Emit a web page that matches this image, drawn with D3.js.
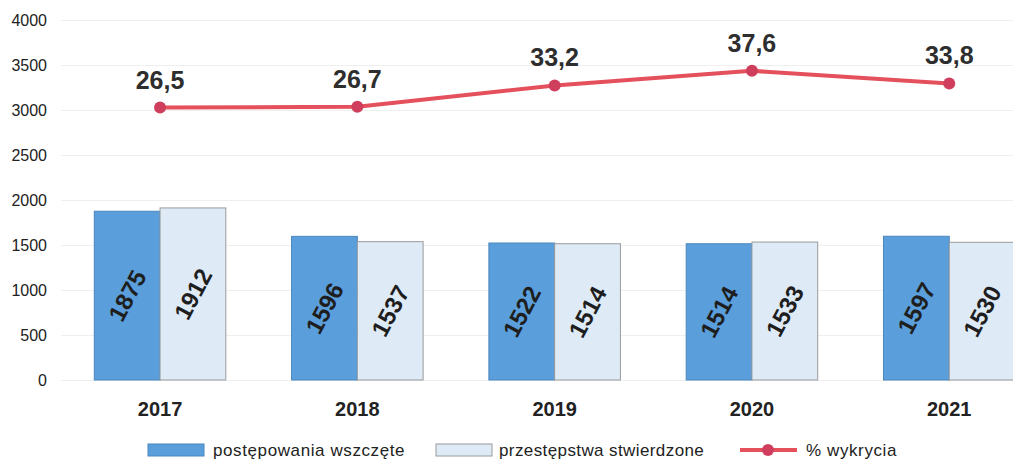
<!DOCTYPE html>
<html>
<head>
<meta charset="utf-8">
<script src="https://cdn.jsdelivr.net/npm/d3@7"></script>
<style>
  html, body { margin: 0; padding: 0; background: #fff; overflow: hidden; }
  svg { display: block; font-family: "Liberation Sans", Arial, sans-serif; }
</style>
</head>
<body>
<svg id="chart" width="1013" height="461"></svg>
<script>
// data
const years      = ["2017", "2018", "2019", "2020", "2021"];
const wszczete   = [1875, 1596, 1522, 1514, 1597];   // postępowania wszczęte
const stwierdz   = [1912, 1537, 1514, 1533, 1530];   // przestępstwa stwierdzone
const wykrycie   = [26.5, 26.7, 33.2, 37.6, 33.8];   // % wykrycia
const yTicks     = [0, 500, 1000, 1500, 2000, 2500, 3000, 3500, 4000];
const seriesKeys = ["wszczete", "stwierdz"];

const colDark  = "#5a9edb";
const colLight = "#deebf7";
const colLine  = "#e4505c";
const colDot   = "#d03e5e";

const svg = d3.select("#chart");

// scales (plot continues past the right edge, like the cropped original)
const x = d3.scaleBand().domain(years).range([61.4, 61.4 + 5 * 197.3]);
const x1 = d3.scaleBand().domain(seriesKeys).range([0, x.bandwidth()]).paddingOuter(0.5);
const y = d3.scaleLinear().domain([0, 4000]).range([380, 20]);
const y2 = d3.scaleLinear().domain([-56, 53]).range([380, 20]); // hidden secondary axis

// gridlines
svg.append("g")
  .selectAll("line")
  .data(yTicks)
  .join("line")
    .attr("x1", 61).attr("x2", 1013)
    .attr("y1", d => y(d) + 0.5).attr("y2", d => y(d) + 0.5)
    .attr("stroke", "#efefef").attr("stroke-width", 1);

// y axis labels
const yAxis = svg.append("g")
  .attr("transform", "translate(55,0)")
  .call(d3.axisLeft(y).tickValues(yTicks).tickFormat(d3.format("d")).tickSize(0).tickPadding(8));
yAxis.select(".domain").remove();
yAxis.selectAll("text")
  .attr("fill", "#222")
  .style("font-size", "16px");

// x axis labels
const xAxis = svg.append("g")
  .attr("transform", "translate(0,398)")
  .call(d3.axisBottom(x).tickSize(0).tickPadding(0));
xAxis.select(".domain").remove();
xAxis.selectAll("text")
  .attr("fill", "#222")
  .attr("dy", "0.9em")
  .style("font-size", "20px")
  .style("font-weight", "bold");

// bars
const rows = years.map((yr, i) => ({ year: yr, wszczete: wszczete[i], stwierdz: stwierdz[i] }));
const groups = svg.append("g")
  .selectAll("g")
  .data(rows)
  .join("g")
    .attr("transform", d => `translate(${x(d.year)},0)`);

const bars = groups.selectAll("g")
  .data(d => seriesKeys.map(k => ({ key: k, value: d[k] })))
  .join("g");

bars.append("rect")
  .attr("x", d => x1(d.key))
  .attr("y", d => y(d.value))
  .attr("width", x1.bandwidth())
  .attr("height", d => y(0) - y(d.value))
  .attr("fill", d => d.key === "wszczete" ? colDark : colLight)
  .attr("stroke", d => d.key === "wszczete" ? "#4a86bf" : "#9a9a9a")
  .attr("stroke-width", 1);

bars.append("text")
  .attr("transform", d => {
    const cx = x1(d.key) + x1.bandwidth() / 2;
    const cy = (y(d.value) + y(0)) / 2;
    return `translate(${cx},${cy}) rotate(-62)`;
  })
  .attr("text-anchor", "middle")
  .attr("dominant-baseline", "central")
  .attr("fill", "#1e1e1e")
  .style("font-size", "24px")
  .style("font-weight", "bold")
  .text(d => d.value);

// line on secondary axis
const pts = years.map((yr, i) => ({ year: yr, v: wykrycie[i] }));
const line = d3.line()
  .x(d => x(d.year) + x.bandwidth() / 2)
  .y(d => y2(d.v));

svg.append("path")
  .datum(pts)
  .attr("d", line)
  .attr("fill", "none")
  .attr("stroke", colLine)
  .attr("stroke-width", 4)
  .attr("stroke-linejoin", "round");

svg.append("g")
  .selectAll("circle")
  .data(pts)
  .join("circle")
    .attr("cx", d => x(d.year) + x.bandwidth() / 2)
    .attr("cy", d => y2(d.v))
    .attr("r", 6)
    .attr("fill", colDot);

svg.append("g")
  .selectAll("text")
  .data(pts)
  .join("text")
    .attr("x", d => x(d.year) + x.bandwidth() / 2)
    .attr("y", d => y2(d.v) - 19)
    .attr("text-anchor", "middle")
    .attr("fill", "#2e2e2e")
    .style("font-size", "25px")
    .style("font-weight", "bold")
    .text(d => String(d.v.toFixed(1)).replace(".", ","));

// legend
const legend = svg.append("g").style("font-size", "17px").attr("fill", "#222");

legend.append("rect")
  .attr("x", 148).attr("y", 444).attr("width", 56).attr("height", 12)
  .attr("fill", colDark).attr("stroke", "#4a86bf");
legend.append("text").attr("x", 213).attr("y", 456)
  .style("letter-spacing", "0.6px").text("postępowania wszczęte");

legend.append("rect")
  .attr("x", 436).attr("y", 444).attr("width", 56).attr("height", 12)
  .attr("fill", colLight).attr("stroke", "#9a9a9a");
legend.append("text").attr("x", 499).attr("y", 456)
  .style("letter-spacing", "0.4px").text("przestępstwa stwierdzone");

legend.append("line")
  .attr("x1", 740).attr("x2", 797).attr("y1", 450).attr("y2", 450)
  .attr("stroke", colLine).attr("stroke-width", 4);
legend.append("circle")
  .attr("cx", 768).attr("cy", 450).attr("r", 6).attr("fill", colDot);
legend.append("text").attr("x", 806).attr("y", 456)
  .style("letter-spacing", "0.6px").text("% wykrycia");
</script>
</body>
</html>
